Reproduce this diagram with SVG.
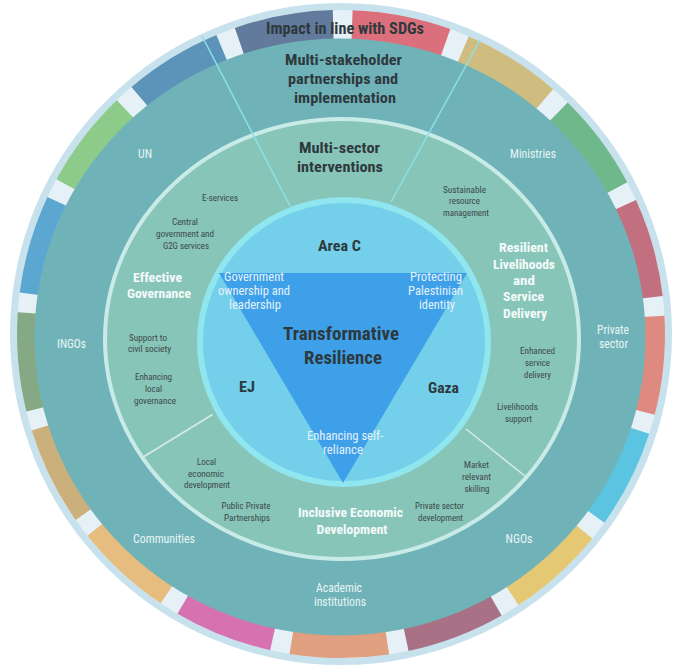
<svg xmlns="http://www.w3.org/2000/svg" xmlns:xlink="http://www.w3.org/1999/xlink" width="676" height="665" viewBox="0 0 676 665">
<defs>
<path id="seg" d="M341,10 A324,324 0 0 1 439.38,25.30 L426.02,67.22 A280,280 0 0 0 341,54 Z"/>
<style>
.t{font-family:"Roboto Condensed","Liberation Sans Narrow",Roboto,"Liberation Sans",sans-serif;text-anchor:middle}
.h{font-weight:700;fill:#2e393d}
.w{font-weight:700;fill:#f4fbfa;font-size:13.5px}
.s{font-size:9px;fill:#3c4848}
.p{font-size:12px;fill:#e8f5f4}
.g{font-size:12.5px;fill:#e3f2fb}
.div1{stroke:#8ae2e9;stroke-width:1.5;fill:none}
.div2{stroke:#d6ebe7;stroke-width:1.5;fill:none}
</style>
</defs>
<rect width="676" height="665" fill="#ffffff"/>
<g id="sdg-ring">
<circle cx="341" cy="334" r="331" fill="#c8e2ed"/>
<circle cx="341" cy="334" r="324" fill="#e5f1f7"/>
<use xlink:href="#seg" href="#seg" fill="#db6f7b" transform="rotate(2.05 341 334)"/>
<use xlink:href="#seg" href="#seg" fill="#cfbd7f" transform="rotate(23.23 341 334)"/>
<use xlink:href="#seg" href="#seg" fill="#6fb88c" transform="rotate(44.40 341 334)"/>
<use xlink:href="#seg" href="#seg" fill="#c27080" transform="rotate(65.58 341 334)"/>
<use xlink:href="#seg" href="#seg" fill="#df8a80" transform="rotate(86.76 341 334)"/>
<use xlink:href="#seg" href="#seg" fill="#5bc4e0" transform="rotate(107.93 341 334)"/>
<use xlink:href="#seg" href="#seg" fill="#e5c873" transform="rotate(129.11 341 334)"/>
<use xlink:href="#seg" href="#seg" fill="#a97186" transform="rotate(150.29 341 334)"/>
<use xlink:href="#seg" href="#seg" fill="#e0a07f" transform="rotate(171.46 341 334)"/>
<use xlink:href="#seg" href="#seg" fill="#d672b0" transform="rotate(192.64 341 334)"/>
<use xlink:href="#seg" href="#seg" fill="#e6bc7f" transform="rotate(213.81 341 334)"/>
<use xlink:href="#seg" href="#seg" fill="#ccb07c" transform="rotate(234.99 341 334)"/>
<use xlink:href="#seg" href="#seg" fill="#86a985" transform="rotate(256.17 341 334)"/>
<use xlink:href="#seg" href="#seg" fill="#5ba7d2" transform="rotate(277.34 341 334)"/>
<use xlink:href="#seg" href="#seg" fill="#8dcb8b" transform="rotate(298.52 341 334)"/>
<use xlink:href="#seg" href="#seg" fill="#5b94b8" transform="rotate(319.70 341 334)"/>
<use xlink:href="#seg" href="#seg" fill="#627a9c" transform="rotate(340.87 341 334)"/>
<text class="t h" x="345" y="34" font-size="16.5" textLength="158" lengthAdjust="spacingAndGlyphs">Impact in line with SDGs</text>
</g>
<g id="stakeholder-ring">
<ellipse cx="340" cy="337" rx="305.5" ry="298.5" fill="#6fb3b8"/>
<text class="t h" x="343.5" y="65" font-size="15.5" textLength="117" lengthAdjust="spacingAndGlyphs">Multi-stakeholder</text>
<text class="t h" x="343" y="84" font-size="15.5" textLength="110" lengthAdjust="spacingAndGlyphs">partnerships and</text>
<text class="t h" x="345" y="103" font-size="15.5" textLength="102" lengthAdjust="spacingAndGlyphs">implementation</text>
<text class="t p" x="145" y="158" textLength="14" lengthAdjust="spacingAndGlyphs">UN</text>
<text class="t p" x="533" y="158" textLength="46" lengthAdjust="spacingAndGlyphs">Ministries</text>
<text class="t p" x="71.5" y="347.5" textLength="29" lengthAdjust="spacingAndGlyphs">INGOs</text>
<text class="t p" x="613" y="334" textLength="32" lengthAdjust="spacingAndGlyphs">Private</text>
<text class="t p" x="613.5" y="347.5" textLength="29" lengthAdjust="spacingAndGlyphs">sector</text>
<text class="t p" x="164" y="543" textLength="62" lengthAdjust="spacingAndGlyphs">Communities</text>
<text class="t p" x="519" y="543" textLength="27" lengthAdjust="spacingAndGlyphs">NGOs</text>
<text class="t p" x="339" y="592" textLength="46" lengthAdjust="spacingAndGlyphs">Academic</text>
<text class="t p" x="340" y="606" textLength="52" lengthAdjust="spacingAndGlyphs">institutions</text>
</g>
<g id="sector-ring">
<ellipse cx="342" cy="339" rx="237" ry="220" fill="#88c5b9" stroke="#c9ebe8" stroke-width="4"/>
<text class="t h" x="339.5" y="153" font-size="15.5" textLength="81" lengthAdjust="spacingAndGlyphs">Multi-sector</text>
<text class="t h" x="340" y="172" font-size="15.5" textLength="86" lengthAdjust="spacingAndGlyphs">interventions</text>
</g>
<g id="effective-governance">
<text class="t w" x="157.5" y="281.5" textLength="49" lengthAdjust="spacingAndGlyphs">Effective</text>
<text class="t w" x="159" y="298" textLength="64" lengthAdjust="spacingAndGlyphs">Governance</text>
<text class="t s" x="220" y="200.5" textLength="36" lengthAdjust="spacingAndGlyphs">E-services</text>
<text class="t s" x="185" y="225" textLength="26" lengthAdjust="spacingAndGlyphs">Central</text>
<text class="t s" x="185" y="237" textLength="58" lengthAdjust="spacingAndGlyphs">government and</text>
<text class="t s" x="186" y="249" textLength="46" lengthAdjust="spacingAndGlyphs">G2G services</text>
<text class="t s" x="148" y="340.5" textLength="38" lengthAdjust="spacingAndGlyphs">Support to</text>
<text class="t s" x="149.5" y="352" textLength="43" lengthAdjust="spacingAndGlyphs">civil society</text>
<text class="t s" x="153.5" y="380" textLength="37" lengthAdjust="spacingAndGlyphs">Enhancing</text>
<text class="t s" x="153.5" y="392" textLength="17" lengthAdjust="spacingAndGlyphs">local</text>
<text class="t s" x="155" y="404" textLength="42" lengthAdjust="spacingAndGlyphs">governance</text>
</g>
<g id="resilient-livelihoods">
<text class="t w" x="523.5" y="252" textLength="49" lengthAdjust="spacingAndGlyphs">Resilient</text>
<text class="t w" x="524" y="268.5" textLength="62" lengthAdjust="spacingAndGlyphs">Livelihoods</text>
<text class="t w" x="524" y="285" textLength="22" lengthAdjust="spacingAndGlyphs">and</text>
<text class="t w" x="523.5" y="301" textLength="41" lengthAdjust="spacingAndGlyphs">Service</text>
<text class="t w" x="525" y="317.5" textLength="44" lengthAdjust="spacingAndGlyphs">Delivery</text>
<text class="t s" x="464.5" y="192.5" textLength="43" lengthAdjust="spacingAndGlyphs">Sustainable</text>
<text class="t s" x="464.5" y="204" textLength="31" lengthAdjust="spacingAndGlyphs">resource</text>
<text class="t s" x="466" y="216" textLength="46" lengthAdjust="spacingAndGlyphs">management</text>
<text class="t s" x="537.5" y="353.5" textLength="35" lengthAdjust="spacingAndGlyphs">Enhanced</text>
<text class="t s" x="537.5" y="366" textLength="25" lengthAdjust="spacingAndGlyphs">service</text>
<text class="t s" x="537.5" y="377.5" textLength="27" lengthAdjust="spacingAndGlyphs">delivery</text>
<text class="t s" x="517.5" y="410" textLength="41" lengthAdjust="spacingAndGlyphs">Livelihoods</text>
<text class="t s" x="518.5" y="421.5" textLength="27" lengthAdjust="spacingAndGlyphs">support</text>
</g>
<g id="inclusive-economic">
<text class="t w" x="350.5" y="517" textLength="105" lengthAdjust="spacingAndGlyphs">Inclusive Economic</text>
<text class="t w" x="352" y="534" textLength="71" lengthAdjust="spacingAndGlyphs">Development</text>
<text class="t s" x="206.5" y="464.5" textLength="19" lengthAdjust="spacingAndGlyphs">Local</text>
<text class="t s" x="206" y="476.5" textLength="36" lengthAdjust="spacingAndGlyphs">economic</text>
<text class="t s" x="207" y="488" textLength="46" lengthAdjust="spacingAndGlyphs">development</text>
<text class="t s" x="246" y="509" textLength="49" lengthAdjust="spacingAndGlyphs">Public Private</text>
<text class="t s" x="247" y="521" textLength="46" lengthAdjust="spacingAndGlyphs">Partnerships</text>
<text class="t s" x="476.5" y="468" textLength="25" lengthAdjust="spacingAndGlyphs">Market</text>
<text class="t s" x="476.5" y="480" textLength="29" lengthAdjust="spacingAndGlyphs">relevant</text>
<text class="t s" x="477" y="491.5" textLength="25" lengthAdjust="spacingAndGlyphs">skilling</text>
<text class="t s" x="439.5" y="509" textLength="49" lengthAdjust="spacingAndGlyphs">Private sector</text>
<text class="t s" x="440.5" y="521" textLength="45" lengthAdjust="spacingAndGlyphs">development</text>
</g>
<g id="core">
<ellipse cx="344" cy="342" rx="144" ry="142" fill="#73cfea" stroke="#8fe6ef" stroke-width="6"/>
<polygon points="219,273 467,273 343,483" fill="#3ea0e9"/>
<text class="t h" x="339.5" y="251" font-size="15.5" textLength="43" lengthAdjust="spacingAndGlyphs">Area C</text>
<text class="t h" x="247" y="392" font-size="15.5" textLength="16" lengthAdjust="spacingAndGlyphs">EJ</text>
<text class="t h" x="443.5" y="393" font-size="15.5" textLength="31" lengthAdjust="spacingAndGlyphs">Gaza</text>
<text class="t h" x="341" y="339.5" font-size="18.5" textLength="116" lengthAdjust="spacingAndGlyphs">Transformative</text>
<text class="t h" x="343" y="364" font-size="18.5" textLength="78" lengthAdjust="spacingAndGlyphs">Resilience</text>
<text class="t g" x="254" y="280.5" textLength="60" lengthAdjust="spacingAndGlyphs">Government</text>
<text class="t g" x="254" y="295" textLength="72" lengthAdjust="spacingAndGlyphs">ownership and</text>
<text class="t g" x="255" y="308.5" textLength="52" lengthAdjust="spacingAndGlyphs">leadership</text>
<text class="t g" x="436" y="280.5" textLength="52" lengthAdjust="spacingAndGlyphs">Protecting</text>
<text class="t g" x="435.5" y="295" textLength="55" lengthAdjust="spacingAndGlyphs">Palestinian</text>
<text class="t g" x="437" y="308.5" textLength="36" lengthAdjust="spacingAndGlyphs">identity</text>
<text class="t g" x="345" y="440" textLength="76" lengthAdjust="spacingAndGlyphs">Enhancing self-</text>
<text class="t g" x="343" y="454" textLength="40" lengthAdjust="spacingAndGlyphs">reliance</text>
</g>
<g id="connectors">
<line class="div1" x1="202" y1="36" x2="290" y2="206"/>
<line class="div1" x1="480" y1="40" x2="391" y2="202"/>
<line class="div2" x1="212.5" y1="414.5" x2="142.5" y2="457.5"/>
<line class="div2" x1="466" y1="429" x2="527.5" y2="478"/>
</g>
</svg>
